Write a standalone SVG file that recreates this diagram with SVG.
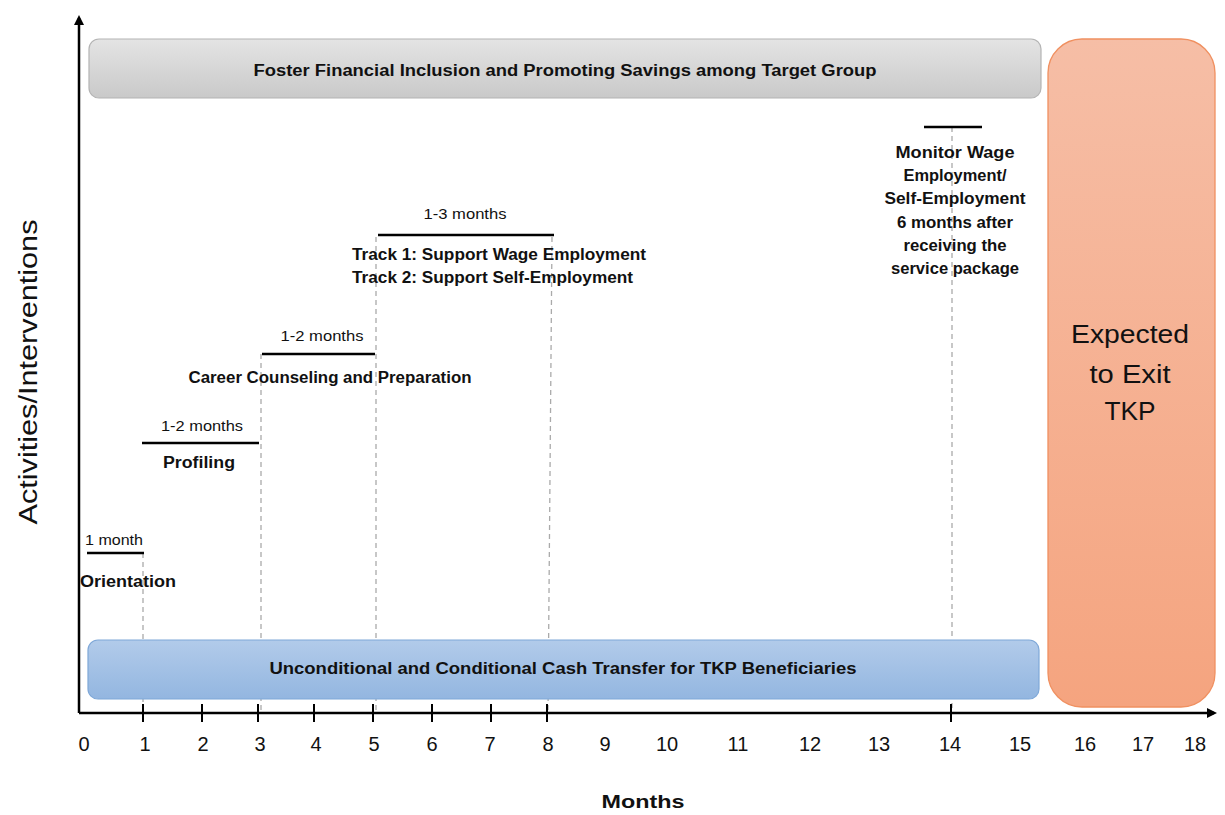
<svg xmlns="http://www.w3.org/2000/svg" width="1225" height="815" viewBox="0 0 1225 815">
<style>
text{font-family:"Liberation Sans",Arial,sans-serif;fill:#111}
.b{font-weight:bold;font-size:16px}
.s{font-size:14px}
.t{font-size:20px;text-anchor:middle}
.step{stroke:#000;stroke-width:2.5}
.dash{stroke:#aaa;stroke-width:1.3;stroke-dasharray:5 4;fill:none}
.ax{stroke:#000;stroke-width:2.5;fill:none}
.tick{stroke:#000;stroke-width:2}
</style>
<defs>
<marker id="arr" markerWidth="10" markerHeight="10" refX="7" refY="5" orient="auto" markerUnits="userSpaceOnUse">
<path d="M0,0 L10,5 L0,10 z" fill="#000"/>
</marker>
<linearGradient id="gGray" x1="0" y1="0" x2="0" y2="1"><stop offset="0" stop-color="#e4e4e4"/><stop offset="1" stop-color="#c9c9c9"/></linearGradient>
<linearGradient id="gBlue" x1="0" y1="0" x2="0" y2="1"><stop offset="0" stop-color="#b2cbea"/><stop offset="1" stop-color="#93b6e0"/></linearGradient>
<linearGradient id="gOr" x1="0" y1="0" x2="0" y2="1"><stop offset="0" stop-color="#f6bea6"/><stop offset="1" stop-color="#f5a47f"/></linearGradient>
</defs>

<g id="connectors">
<path class="dash" d="M143,553 V713"/>
<path class="dash" d="M261,354 V713"/>
<path class="dash" d="M376,237 V713"/>
<path class="dash" d="M552,237 L548,713"/>
<path class="dash" d="M952,127 V713"/>
</g>

<g id="bar-savings">
<rect x="89" y="39" width="952" height="59" rx="10" fill="url(#gGray)" stroke="#b4b4b4" stroke-width="1.2"/>
<text class="b" x="565" y="76" text-anchor="middle" textLength="623" lengthAdjust="spacingAndGlyphs">Foster Financial Inclusion and Promoting Savings among Target Group</text>
</g>

<g id="bar-cash">
<rect x="88" y="640" width="951" height="59" rx="10" fill="url(#gBlue)" stroke="#7fa8d8" stroke-width="1.2"/>
<text class="b" x="563" y="674" text-anchor="middle" textLength="587" lengthAdjust="spacingAndGlyphs">Unconditional and Conditional Cash Transfer for TKP Beneficiaries</text>
</g>

<g id="exit">
<rect x="1048" y="39" width="167" height="668" rx="34" fill="url(#gOr)" stroke="#f09060" stroke-width="1.3"/>
<text x="1130" y="343" font-size="26" text-anchor="middle" textLength="118" lengthAdjust="spacingAndGlyphs">Expected</text>
<text x="1130" y="383" font-size="26" text-anchor="middle" textLength="81" lengthAdjust="spacingAndGlyphs">to Exit</text>
<text x="1130" y="420" font-size="26" text-anchor="middle" textLength="51" lengthAdjust="spacingAndGlyphs">TKP</text>
</g>

<g id="axes">
<path class="ax" d="M79,713 V18" marker-end="url(#arr)"/>
<path class="ax" d="M79,713 H1214" marker-end="url(#arr)"/>
<g class="tick">
<line x1="143" y1="704" x2="143" y2="722"/>
<line x1="202" y1="704" x2="202" y2="722"/>
<line x1="258" y1="704" x2="258" y2="722"/>
<line x1="314" y1="704" x2="314" y2="722"/>
<line x1="373" y1="704" x2="373" y2="722"/>
<line x1="432" y1="704" x2="432" y2="722"/>
<line x1="491" y1="704" x2="491" y2="722"/>
<line x1="547" y1="704" x2="547" y2="722"/>
<line x1="951" y1="704" x2="951" y2="722"/>
</g>
<text class="t" x="84" y="751">0</text>
<text class="t" x="145" y="751">1</text>
<text class="t" x="203" y="751">2</text>
<text class="t" x="260" y="751">3</text>
<text class="t" x="316" y="751">4</text>
<text class="t" x="374" y="751">5</text>
<text class="t" x="432" y="751">6</text>
<text class="t" x="490" y="751">7</text>
<text class="t" x="548" y="751">8</text>
<text class="t" x="605" y="751">9</text>
<text class="t" x="667" y="751">10</text>
<text class="t" x="738" y="751">11</text>
<text class="t" x="810" y="751">12</text>
<text class="t" x="879" y="751">13</text>
<text class="t" x="950" y="751">14</text>
<text class="t" x="1020" y="751">15</text>
<text class="t" x="1085" y="751">16</text>
<text class="t" x="1143" y="751">17</text>
<text class="t" x="1195" y="751">18</text>
<text x="643" y="808" font-size="19" font-weight="bold" text-anchor="middle" textLength="83" lengthAdjust="spacingAndGlyphs">Months</text>
<text transform="translate(37,372) rotate(-90)" font-size="25" text-anchor="middle" textLength="305" lengthAdjust="spacingAndGlyphs">Activities/Interventions</text>
</g>

<g id="orientation">
<line class="step" x1="87" y1="553" x2="144" y2="553"/>
<text class="s" x="114" y="545" text-anchor="middle" textLength="58" lengthAdjust="spacingAndGlyphs">1 month</text>
<text class="b" x="128" y="587" text-anchor="middle" textLength="96" lengthAdjust="spacingAndGlyphs">Orientation</text>
</g>

<g id="profiling">
<line class="step" x1="142" y1="443" x2="259" y2="443"/>
<text class="s" x="202" y="431" text-anchor="middle" textLength="82" lengthAdjust="spacingAndGlyphs">1-2 months</text>
<text class="b" x="199" y="468" text-anchor="middle" textLength="72" lengthAdjust="spacingAndGlyphs">Profiling</text>
</g>

<g id="career">
<line class="step" x1="262" y1="354" x2="375" y2="354"/>
<text class="s" x="322" y="341" text-anchor="middle" textLength="83" lengthAdjust="spacingAndGlyphs">1-2 months</text>
<text class="b" x="330" y="383" text-anchor="middle" textLength="283" lengthAdjust="spacingAndGlyphs">Career Counseling and Preparation</text>
</g>

<g id="tracks">
<line class="step" x1="378" y1="235" x2="554" y2="235"/>
<text class="s" x="465" y="219" text-anchor="middle" textLength="83" lengthAdjust="spacingAndGlyphs">1-3 months</text>
<text class="b" x="352" y="260" textLength="294" lengthAdjust="spacingAndGlyphs">Track 1: Support Wage Employment</text>
<text class="b" x="352" y="283" textLength="281" lengthAdjust="spacingAndGlyphs">Track 2: Support Self-Employment</text>
</g>

<g id="monitor">
<line class="step" x1="924" y1="127" x2="982" y2="127"/>
<g class="b" text-anchor="middle">
<text x="955" y="158" textLength="119" lengthAdjust="spacingAndGlyphs">Monitor Wage</text>
<text x="955" y="181" textLength="103" lengthAdjust="spacingAndGlyphs">Employment/</text>
<text x="955" y="204" textLength="141" lengthAdjust="spacingAndGlyphs">Self-Employment</text>
<text x="955" y="228" textLength="116" lengthAdjust="spacingAndGlyphs">6 months after</text>
<text x="955" y="251" textLength="103" lengthAdjust="spacingAndGlyphs">receiving the</text>
<text x="955" y="274" textLength="128" lengthAdjust="spacingAndGlyphs">service package</text>
</g>
</g>
</svg>
